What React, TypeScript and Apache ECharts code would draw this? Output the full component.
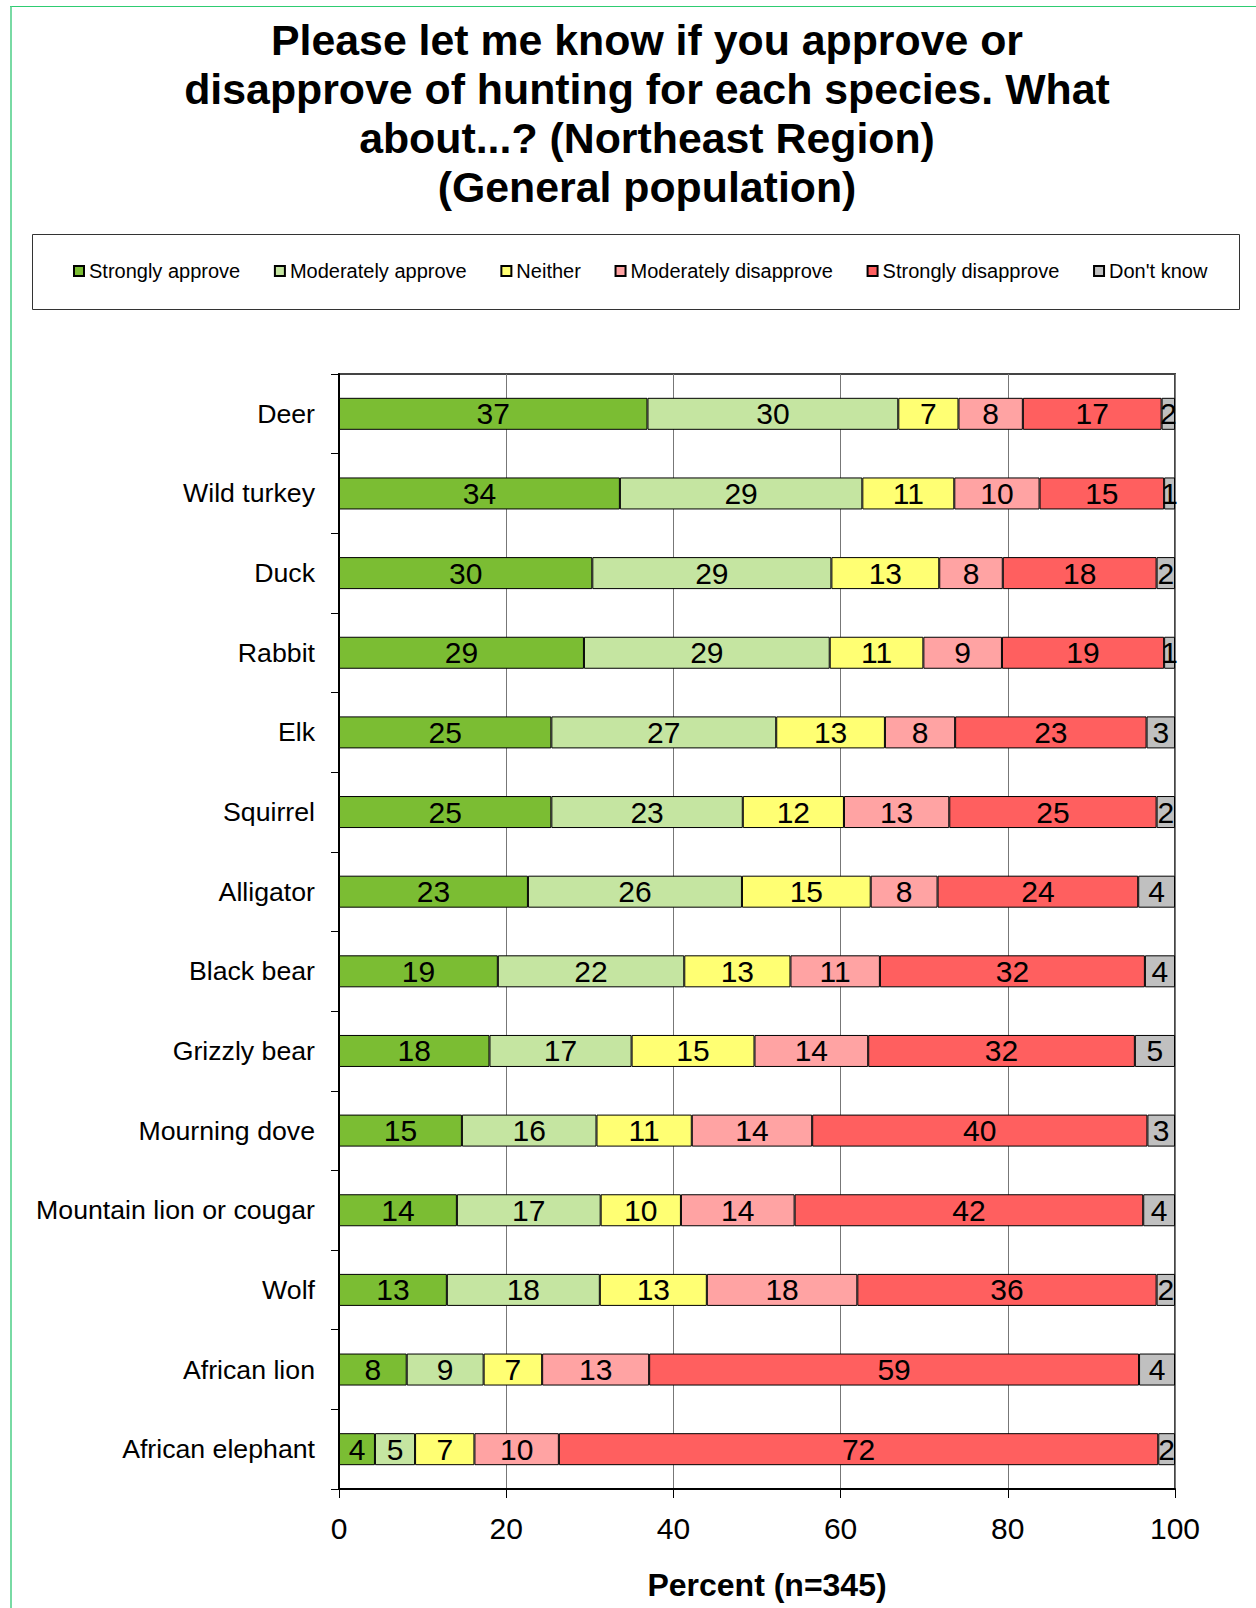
import React, { useEffect, useRef } from "react";
import * as echarts from "echarts";

const categories = [
  "Deer",
  "Wild turkey",
  "Duck",
  "Rabbit",
  "Elk",
  "Squirrel",
  "Alligator",
  "Black bear",
  "Grizzly bear",
  "Mourning dove",
  "Mountain lion or cougar",
  "Wolf",
  "African lion",
  "African elephant",
];

const seriesNames = [
  "Strongly approve",
  "Moderately approve",
  "Neither",
  "Moderately disapprove",
  "Strongly disapprove",
  "Don't know",
];

const stronglyApprove = [36.9, 33.6, 30.3, 29.3, 25.4, 25.4, 22.6, 19.0, 18.0, 14.7, 14.1, 12.9, 8.1, 4.3];
const moderatelyApprove = [30.0, 29.0, 28.6, 29.4, 26.9, 22.9, 25.6, 22.3, 17.0, 16.1, 17.2, 18.3, 9.2, 4.8];
const neither = [7.2, 11.0, 12.9, 11.2, 13.0, 12.1, 15.4, 12.7, 14.7, 11.4, 9.6, 12.8, 7.0, 7.1];
const moderatelyDisapprove = [7.7, 10.2, 7.6, 9.4, 8.4, 12.6, 8.0, 10.7, 13.6, 14.4, 13.6, 18.0, 12.8, 10.1];
const stronglyDisapprove = [16.6, 14.9, 18.4, 19.4, 22.9, 24.8, 24.0, 31.7, 31.9, 40.1, 41.7, 35.8, 58.6, 71.7];
const dontKnow = [1.6, 1.3, 2.2, 1.3, 3.4, 2.2, 4.4, 3.6, 4.8, 3.3, 3.8, 2.2, 4.3, 2.0];

const seriesValues = [
  stronglyApprove,
  moderatelyApprove,
  neither,
  moderatelyDisapprove,
  stronglyDisapprove,
  dontKnow,
];

const colors = ["#7bbd33", "#c5e5a1", "#ffff73", "#ffa3a3", "#ff5f5f", "#c0c0c0"];

const xTicks = [0, 20, 40, 60, 80, 100];

const titleLines = [
  "Please let me know if you approve or",
  "disapprove of hunting for each species. What",
  "about...? (Northeast Region)",
  "(General population)",
];

const xAxisTitle = "Percent (n=345)";

const FONT = 'Arial, "Liberation Sans", Helvetica, sans-serif';

export default function App() {
  const ref = useRef<HTMLDivElement>(null);

  useEffect(() => {
    if (!ref.current) return;
    const chart = echarts.init(ref.current, null, { renderer: "svg" });

    const series = seriesNames.map((name, i) => ({
      name,
      type: "bar",
      stack: "total",
      barWidth: 32,
      data: seriesValues[i],
      itemStyle: { color: colors[i], borderColor: "#000", borderWidth: 1 },
      label: {
        show: true,
        position: "inside",
        color: "#000",
        fontSize: 30,
        fontFamily: FONT,
        textBorderWidth: 0,
        formatter: (p: any) => String(Math.round(p.value)),
      },
      emphasis: { disabled: true },
    }));

    chart.setOption({
      animation: false,
      backgroundColor: "#fff",
      textStyle: { fontFamily: FONT },
      legend: {
        data: seriesNames,
        left: 73,
        top: 261,
        padding: 0,
        orient: "horizontal",
        itemWidth: 10,
        itemHeight: 10,
        itemGap: 33.7,
        icon: "rect",
        selectedMode: false,
        textStyle: { fontSize: 20, color: "#000", fontFamily: FONT },
      },
      grid: {
        left: 339,
        top: 374,
        width: 836,
        height: 1115,
        show: true,
        borderColor: "#444",
        borderWidth: 2,
        containLabel: false,
      },
      xAxis: {
        type: "value",
        min: 0,
        max: 100,
        interval: 20,
        axisLine: { show: true, lineStyle: { color: "#000", width: 2 } },
        axisTick: { show: true, length: 9, lineStyle: { color: "#000", width: 1 } },
        axisLabel: {
          fontSize: 30,
          color: "#000",
          margin: 24,
          fontFamily: FONT,
          formatter: (v: number) => (xTicks.includes(v) ? String(v) : ""),
        },
        splitLine: { show: true, lineStyle: { color: "#777", width: 1 } },
      },
      yAxis: {
        type: "category",
        data: categories,
        inverse: true,
        boundaryGap: true,
        axisLine: { show: true, lineStyle: { color: "#000", width: 2 } },
        axisTick: { show: true, length: 8, inside: false, lineStyle: { color: "#000", width: 1 } },
        axisLabel: { fontSize: 26.7, color: "#000", margin: 24, fontFamily: FONT },
        splitLine: { show: false },
      },
      series,
      graphic: [
        {
          type: "line",
          shape: { x1: 10, y1: 6.5, x2: 1256, y2: 6.5 },
          style: { stroke: "#2ecc71", lineWidth: 1.2 },
          silent: true,
        },
        {
          type: "line",
          shape: { x1: 11, y1: 6, x2: 11, y2: 1608 },
          style: { stroke: "#4dce86", lineWidth: 1.5 },
          silent: true,
        },
        {
          type: "rect",
          shape: { x: 32.5, y: 234.5, width: 1207, height: 75 },
          style: { fill: "none", stroke: "#333", lineWidth: 1 },
          silent: true,
          z: -1,
        },
        {
          type: "text",
          x: 647,
          y: 16,
          scaleX: 1.02,
          style: {
            text: titleLines.join("\n"),
            font: `bold 42px ${FONT}`,
            lineHeight: 49,
            fill: "#000",
            textAlign: "center",
            textVerticalAlign: "top",
          },
          silent: true,
        },
        {
          type: "text",
          x: 767,
          y: 1585,
          style: {
            text: xAxisTitle,
            font: `bold 32px ${FONT}`,
            fill: "#000",
            textAlign: "center",
            textVerticalAlign: "middle",
          },
          silent: true,
        },
      ],
    });

    return () => chart.dispose();
  }, []);

  return (
    <div
      ref={ref}
      style={{ position: "absolute", left: 0, top: 0, width: 1256, height: 1608 }}
    />
  );
}
